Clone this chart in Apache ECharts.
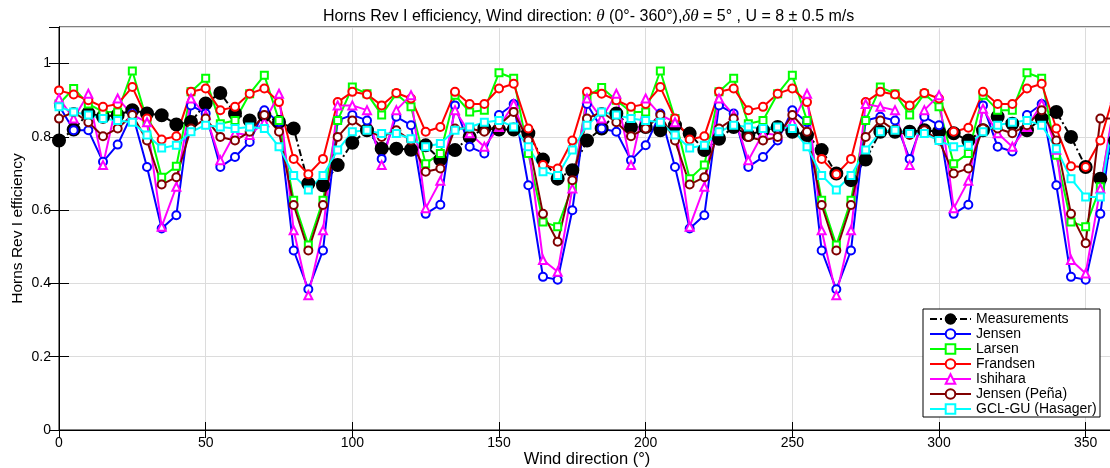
<!DOCTYPE html>
<html><head><meta charset="utf-8">
<script src="https://cdn.jsdelivr.net/npm/echarts@6/dist/echarts.min.js"></script>
<style>html,body{margin:0;padding:0;background:#fff}#c{width:1110px;height:468px}</style>
</head><body><div id="c"></div>
<script>
const angles = [0,5,10,15,20,25,30,35,40,45,50,55,60,65,70,75,80,85,90,95,100,105,110,115,120,125,130,135,140,145,150,155,160,165,170,175,180,185,190,195,200,205,210,215,220,225,230,235,240,245,250,255,260,265,270,275,280,285,290,295,300,305,310,315,320,325,330,335,340,345,350,355,360];
const xTicks = [0,50,100,150,200,250,300,350];
const yTicks = [0,0.2,0.4,0.6,0.8,1];

const measurements = [0.79,0.82,0.865,0.855,0.86,0.873,0.864,0.859,0.834,0.841,0.891,0.92,0.864,0.845,0.859,0.841,0.823,0.673,0.668,0.723,0.784,0.818,0.768,0.768,0.765,0.777,0.738,0.764,0.80,0.823,0.82,0.82,0.81,0.738,0.686,0.709,0.79,
  0.823,0.864,0.827,0.827,0.818,0.832,0.809,0.764,0.795,0.827,0.805,0.818,0.827,0.814,0.805,0.764,0.70,0.682,0.738,0.814,0.814,0.814,0.818,0.814,0.81,0.79,0.818,0.855,0.836,0.818,0.85,0.868,0.80,0.718,0.686,0.79];
const jensen = [0.886,0.818,0.818,0.732,0.779,0.864,0.718,0.55,0.586,0.886,0.864,0.718,0.745,0.786,0.873,0.84,0.49,0.384,0.49,0.845,0.86,0.845,0.74,0.855,0.832,0.59,0.615,0.886,0.773,0.755,0.86,0.89,0.668,0.418,0.41,0.6,0.89,
  0.823,0.814,0.736,0.777,0.864,0.718,0.55,0.586,0.886,0.864,0.718,0.745,0.79,0.873,0.84,0.49,0.384,0.49,0.845,0.855,0.845,0.74,0.855,0.832,0.59,0.615,0.886,0.773,0.76,0.86,0.89,0.668,0.418,0.41,0.59,0.886];
const larsen = [0.89,0.932,0.89,0.868,0.868,0.98,0.845,0.69,0.72,0.923,0.96,0.836,0.845,0.918,0.968,0.845,0.627,0.505,0.627,0.845,0.936,0.918,0.86,0.918,0.882,0.727,0.755,0.914,0.868,0.873,0.975,0.96,0.755,0.568,0.555,0.664,0.91,
  0.935,0.9,0.868,0.868,0.98,0.85,0.686,0.723,0.923,0.96,0.836,0.845,0.918,0.968,0.845,0.627,0.505,0.627,0.845,0.936,0.918,0.86,0.918,0.882,0.727,0.755,0.914,0.873,0.873,0.975,0.96,0.75,0.568,0.555,0.664,0.89];
const frandsen = [0.927,0.916,0.9,0.882,0.89,0.936,0.85,0.793,0.802,0.923,0.932,0.873,0.882,0.918,0.932,0.895,0.74,0.698,0.74,0.895,0.923,0.916,0.886,0.92,0.905,0.814,0.827,0.923,0.89,0.89,0.932,0.945,0.823,0.723,0.714,0.79,0.923,
  0.918,0.9,0.882,0.89,0.936,0.85,0.793,0.802,0.923,0.932,0.873,0.882,0.918,0.932,0.895,0.74,0.698,0.74,0.895,0.923,0.916,0.886,0.92,0.905,0.814,0.825,0.923,0.89,0.89,0.932,0.945,0.823,0.72,0.718,0.79,0.927];
const ishihara = [0.905,0.85,0.918,0.723,0.905,0.86,0.84,0.555,0.664,0.905,0.86,0.736,0.81,0.805,0.84,0.918,0.545,0.368,0.545,0.886,0.886,0.873,0.723,0.873,0.914,0.605,0.68,0.873,0.81,0.773,0.827,0.89,0.777,0.464,0.432,0.659,0.905,
  0.85,0.918,0.723,0.905,0.86,0.84,0.555,0.664,0.905,0.86,0.736,0.81,0.805,0.84,0.918,0.545,0.368,0.545,0.89,0.882,0.873,0.723,0.873,0.914,0.605,0.68,0.877,0.81,0.773,0.827,0.89,0.765,0.464,0.427,0.659,0.905];
const jensenPena = [0.85,0.868,0.84,0.802,0.823,0.86,0.79,0.67,0.69,0.823,0.85,0.80,0.79,0.814,0.86,0.814,0.614,0.49,0.614,0.80,0.845,0.818,0.80,0.818,0.79,0.705,0.714,0.823,0.823,0.814,0.832,0.868,0.79,0.59,0.514,0.682,0.85,
  0.868,0.84,0.802,0.823,0.86,0.79,0.67,0.69,0.823,0.85,0.80,0.79,0.80,0.86,0.814,0.614,0.49,0.614,0.80,0.845,0.818,0.805,0.818,0.79,0.70,0.714,0.823,0.823,0.81,0.832,0.873,0.79,0.59,0.51,0.85,0.85];
const gclgu = [0.882,0.868,0.86,0.85,0.845,0.84,0.805,0.77,0.777,0.814,0.832,0.827,0.823,0.827,0.823,0.773,0.695,0.655,0.695,0.764,0.814,0.818,0.809,0.809,0.795,0.773,0.782,0.818,0.827,0.84,0.845,0.827,0.773,0.705,0.695,0.764,0.832,
  0.868,0.86,0.85,0.845,0.84,0.805,0.77,0.777,0.814,0.832,0.827,0.823,0.827,0.823,0.773,0.695,0.655,0.695,0.764,0.814,0.818,0.809,0.809,0.79,0.773,0.777,0.814,0.832,0.84,0.845,0.832,0.768,0.686,0.636,0.636,0.882];

const names = ['Measurements','Jensen','Larsen','Frandsen','Ishihara','Jensen (Peña)','GCL-GU (Hasager)'];
const FONT = '"Liberation Sans", Arial, Helvetica, sans-serif';

function pairs(vals){ return angles.map((a,i)=>[a, vals[i]]); }
function mk(name, vals, color, symbol, size, lineType, fill){
  return {
    name, type:'line', data: pairs(vals), symbol, symbolSize:size, showSymbol:true,
    lineStyle:{color, width:2, type:lineType||'solid'},
    itemStyle:{color: fill||color, borderColor:color, borderWidth:2},
    emphasis:{disabled:true}, animation:false, clip:true
  };
}

const chart = echarts.init(document.getElementById('c'), null, {renderer:'canvas'});
const axisLineStyle = {show:true, lineStyle:{color:'#000', width:1}};
const option = {
  animation:false,
  backgroundColor:'#fff',
  title:{
    text:'{a|Horns Rev I efficiency, Wind direction: }{i|θ}{a| (0°- 360°),}{i|δθ}{a| = 5° , U = 8 ± 0.5 m/s}',
    left:318, top:3,
    textStyle:{ rich:{
      a:{fontFamily:FONT, fontSize:16, fontWeight:'normal', color:'#000'},
      i:{fontFamily:'"Liberation Serif", "Times New Roman", serif', fontStyle:'italic', fontWeight:'normal', fontSize:17, color:'#000'}
    }}
  },
  grid:{left:59, right:-5, top:27, bottom:38, outerBoundsMode:'none', containLabel:false,
    show:true, borderColor:'#000', borderWidth:1, backgroundColor:'transparent'},
  xAxis:[{
    type:'value', min:0, max:360, interval:50, position:'bottom',
    axisLine:axisLineStyle,
    axisTick:{show:true, inside:true, length:8, lineStyle:{color:'#000'}},
    axisLabel:{color:'#000', fontSize:14, fontFamily:FONT, margin:6, showMaxLabel:false,
      formatter:v=> xTicks.indexOf(v)>=0 ? String(v) : ''},
    splitLine:{show:true, lineStyle:{color:'#dcdcdc', width:1}},
    name:'Wind direction (°)', nameLocation:'middle', nameGap:21, nameMoveOverlap:false,
    nameTextStyle:{color:'#000', fontSize:16.5, fontFamily:FONT}
  },{
    type:'value', min:0, max:360, interval:50, position:'top',
    axisLine:axisLineStyle,
    axisTick:{show:true, inside:true, length:8, lineStyle:{color:'#000'}},
    axisLabel:{show:false}, splitLine:{show:false}
  }],
  yAxis:[{
    type:'value', min:0, max:1.1, interval:0.2, position:'left',
    axisLine:axisLineStyle,
    axisTick:{show:true, inside:true, length:10, lineStyle:{color:'#000'}},
    axisLabel:{color:'#000', fontSize:14, fontFamily:FONT, margin:8, showMaxLabel:false,
      formatter:v=>{ const t = yTicks.find(y=>Math.abs(y-v)<1e-6); return t===undefined ? '' : String(t); }},
    splitLine:{show:true, lineStyle:{color:'#dcdcdc', width:1}},
    name:'Horns Rev I efficiency', nameLocation:'middle', nameGap:33, nameMoveOverlap:false,
    nameTextStyle:{color:'#000', fontSize:15.5, fontFamily:FONT}
  },{
    type:'value', min:0, max:1.1, interval:0.2, position:'right',
    axisLine:axisLineStyle,
    axisTick:{show:true, inside:true, length:10, lineStyle:{color:'#000'}},
    axisLabel:{show:false}, splitLine:{show:false}
  }],
  graphic:[{
    type:'rect', z:50, shape:{x:923, y:309, width:177, height:108},
    style:{fill:'#fff', stroke:'#000', lineWidth:1}
  }],
  legend:{
    z:60, orient:'vertical', left:929, top:312, padding:0,
    itemWidth:41, itemHeight:12, itemGap:1,
    textStyle:{color:'#000', fontSize:14, fontFamily:FONT},
    data:names
  },
  series:[
    mk(names[0], measurements, '#000000', 'circle', 12, [7,3,2,3], '#000000'),
    mk(names[1], jensen, '#0000ff', 'emptyCircle', 8),
    mk(names[2], larsen, '#00ff00', 'emptyRect', 7),
    mk(names[3], frandsen, '#ff0000', 'emptyCircle', 8),
    mk(names[4], ishihara, '#ff00ff', 'emptyTriangle', 8),
    mk(names[5], jensenPena, '#800000', 'emptyCircle', 8),
    mk(names[6], gclgu, '#00ffff', 'emptyRect', 7)
  ]
};
chart.setOption(option);
</script>
</body></html>
